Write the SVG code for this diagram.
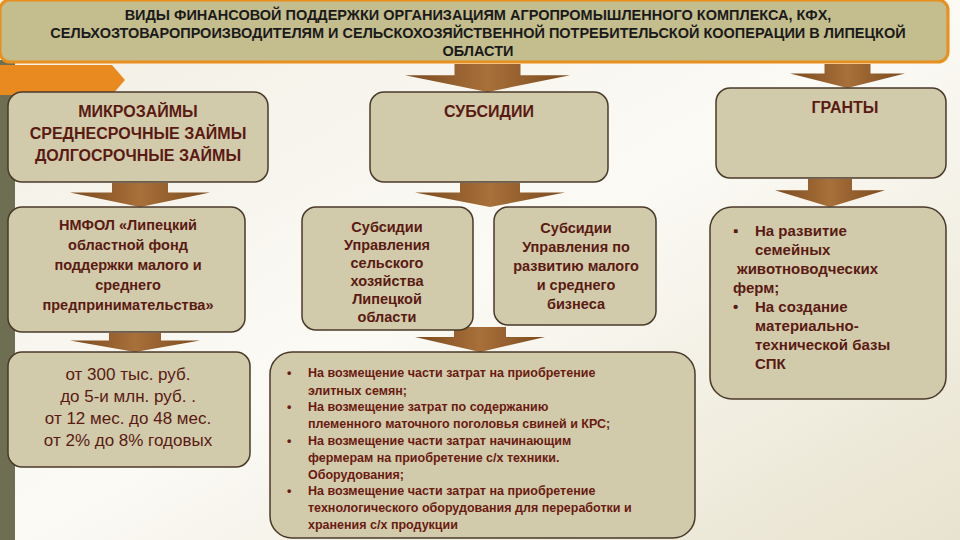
<svg xmlns="http://www.w3.org/2000/svg" width="960" height="540" viewBox="0 0 960 540">
<defs>
<linearGradient id="bg" x1="0" y1="0" x2="1" y2="1"><stop offset="0" stop-color="#f1eee2"/><stop offset="0.5" stop-color="#fbfaf5"/><stop offset="1" stop-color="#e8e3cf"/></linearGradient>
<linearGradient id="ar" x1="0" y1="0" x2="1" y2="0"><stop offset="0" stop-color="#7a4a1e"/><stop offset="0.5" stop-color="#a8703a"/><stop offset="1" stop-color="#7a4a1e"/></linearGradient>
<symbol id="arrow" viewBox="0 0 100 30" preserveAspectRatio="none"><path d="M30 0H70V12H100L50 30L0 12H30Z" fill="url(#ar)"/></symbol>
</defs>
<style>
.box{fill:#d1cbac;stroke:#4a3a2a;stroke-width:1.5}
.t{font-family:"Liberation Sans",sans-serif;fill:#5a1a12;text-anchor:middle;font-weight:bold}
.h{font-size:16px}
.m{font-size:14.5px}
.b{font-family:"Liberation Sans",sans-serif;fill:#6a1a10;font-size:12.5px;font-weight:bold}
</style>
<rect width="960" height="540" fill="url(#bg)"/>
<rect x="0" y="60" width="15" height="480" fill="#6e6e52"/>
<path d="M0 65H112L125 80L112 95H0Z" fill="#e88a20"/>
<g id="title">
<rect x="0" y="0" width="948" height="62" rx="10" fill="#c4bd8e" stroke="#e8901e" stroke-width="3"/>
<text class="t" font-size="14.5" style="fill:#1a1a1a"><tspan x="478" y="20">ВИДЫ ФИНАНСОВОЙ ПОДДЕРЖКИ  ОРГАНИЗАЦИЯМ АГРОПРОМЫШЛЕННОГО КОМПЛЕКСА, КФХ,</tspan><tspan x="478" y="38">СЕЛЬХОЗТОВАРОПРОИЗВОДИТЕЛЯМ И СЕЛЬСКОХОЗЯЙСТВЕННОЙ ПОТРЕБИТЕЛЬСКОЙ КООПЕРАЦИИ В ЛИПЕЦКОЙ</tspan><tspan x="478" y="56">ОБЛАСТИ</tspan></text>
</g>
<g id="connectors">
<use href="#arrow" x="405" y="64" width="165" height="28"/>
<use href="#arrow" x="790" y="64" width="115" height="24"/>
<use href="#arrow" x="70" y="183" width="140" height="24"/>
<use href="#arrow" x="415" y="183" width="150" height="24"/>
<use href="#arrow" x="775" y="179" width="110" height="28"/>
<use href="#arrow" x="70" y="333" width="130" height="19"/>
<use href="#arrow" x="415" y="327" width="130" height="25"/>
</g>
<g id="n1"><rect class="box" x="8" y="92" width="260" height="90" rx="14"/>
<text class="t h"><tspan x="138" y="117">МИКРОЗАЙМЫ</tspan><tspan x="138" y="139">СРЕДНЕСРОЧНЫЕ  ЗАЙМЫ</tspan><tspan x="138" y="161">ДОЛГОСРОЧНЫЕ ЗАЙМЫ</tspan></text></g>
<g id="n2"><rect class="box" x="370" y="92" width="238" height="90" rx="14"/>
<text class="t h" x="489" y="117">СУБСИДИИ</text></g>
<g id="n3"><rect class="box" x="716" y="88" width="230" height="90" rx="14"/>
<text class="t h" x="845" y="113">ГРАНТЫ</text></g>
<g id="n4"><rect class="box" x="8" y="207" width="237" height="125" rx="14"/>
<text class="t m"><tspan x="128" y="230">НМФОЛ «Липецкий</tspan><tspan x="128" y="250">областной фонд</tspan><tspan x="128" y="270">поддержки малого и</tspan><tspan x="128" y="290">среднего</tspan><tspan x="128" y="310">предпринимательства»</tspan></text></g>
<g id="n5"><rect class="box" x="302" y="207" width="171" height="123" rx="14"/>
<text class="t m"><tspan x="387" y="232">Субсидии</tspan><tspan x="387" y="250">Управления</tspan><tspan x="387" y="268">сельского</tspan><tspan x="387" y="286">хозяйства</tspan><tspan x="387" y="304">Липецкой</tspan><tspan x="387" y="322">области</tspan></text></g>
<g id="n6"><rect class="box" x="494" y="207" width="162" height="118" rx="14"/>
<text class="t m"><tspan x="576" y="233">Субсидии</tspan><tspan x="576" y="252">Управления по</tspan><tspan x="576" y="271">развитию малого</tspan><tspan x="576" y="290">и среднего</tspan><tspan x="576" y="309">бизнеса</tspan></text></g>
<g id="n7"><rect class="box" x="710" y="207" width="236" height="192" rx="22"/>
<text class="t m" style="text-anchor:start;font-size:15px"><tspan x="733" y="236">▪</tspan><tspan x="755" y="236">На развитие</tspan><tspan x="755" y="255">семейных</tspan><tspan x="737" y="274">животноводческих</tspan><tspan x="733" y="293">ферм;</tspan><tspan x="733" y="312">•</tspan><tspan x="755" y="312">На создание</tspan><tspan x="755" y="331">материально-</tspan><tspan x="755" y="350">технической базы</tspan><tspan x="755" y="369">СПК</tspan></text></g>
<g id="n8"><rect class="box" x="8" y="352" width="242" height="115" rx="14"/>
<text class="t h" style="font-weight:normal;font-size:17px"><tspan x="128" y="380">от 300 тыс. руб.</tspan><tspan x="128" y="402">до 5-и млн. руб. .</tspan><tspan x="128" y="424">от 12 мес. до 48 мес.</tspan><tspan x="128" y="446">от 2% до 8% годовых</tspan></text></g>
<g id="n9"><rect class="box" x="270" y="352" width="425" height="186" rx="22"/>
<text class="b"><tspan x="287" y="377">•</tspan><tspan x="308" y="377">На возмещение части затрат на приобретение</tspan><tspan x="308" y="395">элитных семян;</tspan><tspan x="287" y="411">•</tspan><tspan x="308" y="411">На возмещение затрат по содержанию</tspan><tspan x="308" y="428">племенного маточного поголовья свиней и КРС;</tspan><tspan x="287" y="445">•</tspan><tspan x="308" y="445">На возмещение части затрат  начинающим</tspan><tspan x="308" y="462">фермерам на приобретение с/х техники.</tspan><tspan x="308" y="479">Оборудования;</tspan><tspan x="287" y="495">•</tspan><tspan x="308" y="495">На возмещение части затрат на приобретение</tspan><tspan x="308" y="512">технологического оборудования для переработки и</tspan><tspan x="308" y="529">хранения с/х продукции</tspan></text></g>
</svg>
